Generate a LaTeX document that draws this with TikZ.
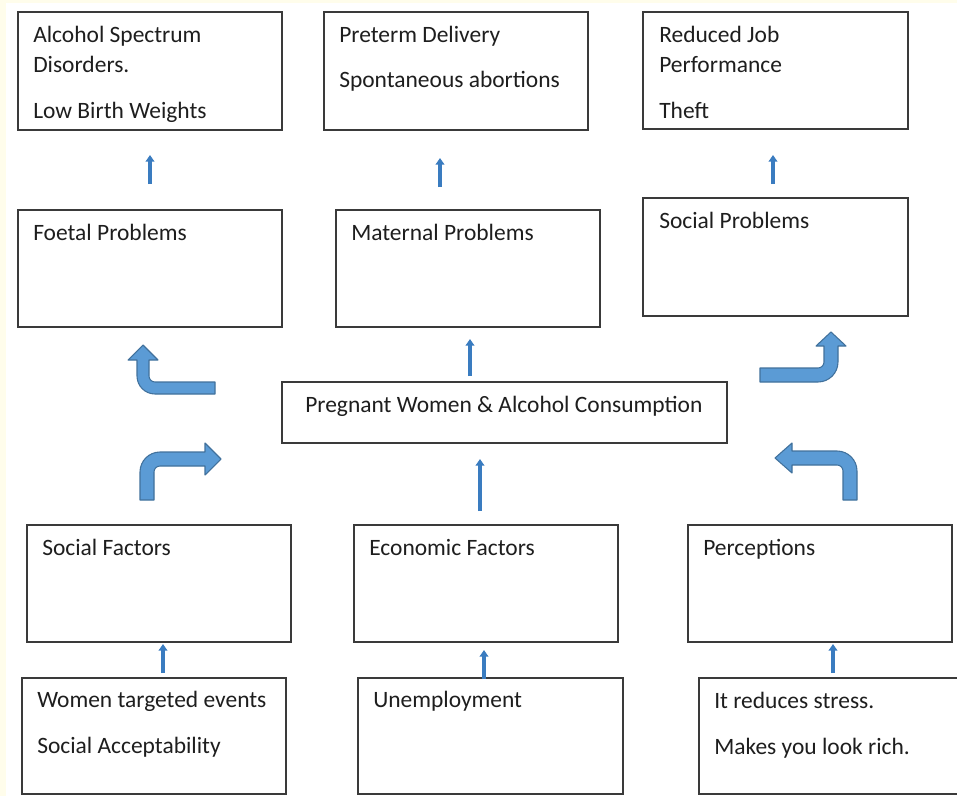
\documentclass[tikz,border=0pt]{standalone}
\usepackage{fontspec}
\setmainfont{Carlito}
\usetikzlibrary{arrows.meta,fit}
\definecolor{cream}{HTML}{FFFDEB}
\definecolor{boxline}{HTML}{3A3A3A}
\definecolor{txtcol}{HTML}{1E1E1E}
\definecolor{bigfill}{HTML}{5B9BD5}
\definecolor{bigline}{HTML}{41719C}
\definecolor{smallarr}{HTML}{3A7CC0}
\tikzset{
  box/.style={draw=boxline, line width=1.1pt, inner sep=0pt, fill=white},
  txt/.style={anchor=base west, inner sep=0pt, text=txtcol, font=\fontsize{17.6pt}{21pt}\selectfont},
  bigarrow/.style={fill=bigfill, draw=bigline, line width=0.8pt, line join=round},
  smallarrow/.style={draw=smallarr, line width=2.4pt, -{Triangle[width=6.5pt,length=5pt]}},
}
\begin{document}
\begin{tikzpicture}[x=0.75pt,y=-0.75pt]
\useasboundingbox (0,0) rectangle (957,796);
\fill[cream] (0,0) rectangle (957,796);
\fill[white] (6,3) rectangle (957,796);

% ---------- top row ----------
\node[box, fit={(18,12) (282,130)}] (fasd) {};
\node[txt] (fasd1) at (33,42) {Alcohol Spectrum};
\node[txt] (fasd2) at (33,72) {Disorders.};
\node[txt] (fasd3) at (33,118) {Low Birth Weights};

\node[box, fit={(324,12) (588,130)}] (preterm) {};
\node[txt] (preterm1) at (339,42) {Preterm Delivery};
\node[txt] (preterm2) at (339,87) {Spontaneous abortions};

\node[box, fit={(643,12) (908,129)}] (job) {};
\node[txt] (job1) at (659,42) {Reduced Job};
\node[txt] (job2) at (659,72) {Performance};
\node[txt] (job3) at (659,118) {Theft};

% ---------- second row ----------
\node[box, fit={(18,210) (282,327)}] (foetal) {};
\node[txt] (foetal1) at (33,240) {Foetal Problems};

\node[box, fit={(336,210) (600,327)}] (maternal) {};
\node[txt] (maternal1) at (351,240) {Maternal Problems};

\node[box, fit={(643,198) (908,316)}] (socprob) {};
\node[txt] (socprob1) at (659,228) {Social Problems};

% ---------- centre ----------
\node[box, fit={(282,382) (727,443)}] (centre) {};
\node[txt] (centre1) at (305,412) {Pregnant Women \& Alcohol Consumption};

% ---------- third row ----------
\node[box, fit={(27,525) (291,642)}] (socfac) {};
\node[txt] (socfac1) at (42,555) {Social Factors};

\node[box, fit={(354,525) (618,642)}] (econ) {};
\node[txt] (econ1) at (369,555) {Economic Factors};

\node[box, fit={(688,525) (952,642)}] (percep) {};
\node[txt] (percep1) at (703,555) {Perceptions};

% ---------- bottom row ----------
\node[box, fit={(22,678) (286,794)}] (women) {};
\node[txt] (women1) at (37,707) {Women targeted events};
\node[txt] (women2) at (37,753) {Social Acceptability};

\node[box, fit={(358,678) (623,794)}] (unemp) {};
\node[txt] (unemp1) at (373,707) {Unemployment};

\node[box, fit={(699,678) (962,794)}] (stress) {};
\node[txt] (stress1) at (714,708) {It reduces stress.};
\node[txt] (stress2) at (714,754) {Makes you look rich.};

% ---------- small arrows ----------
\coordinate (s1a) at (150,184); \coordinate (s1b) at (150,155);
\coordinate (s2a) at (440,187); \coordinate (s2b) at (440,158);
\coordinate (s3a) at (773,184); \coordinate (s3b) at (773,155);
\coordinate (s4a) at (470,376); \coordinate (s4b) at (470,339);
\coordinate (s5a) at (480,511); \coordinate (s5b) at (480,459);
\coordinate (s6a) at (163,673); \coordinate (s6b) at (163,644);
\coordinate (s7a) at (484,679); \coordinate (s7b) at (484,650);
\coordinate (s8a) at (833,673); \coordinate (s8b) at (833,644);
\foreach \n in {1,...,8} \draw[smallarrow] (s\n a) -- (s\n b);

% ---------- bent block arrows ----------
% upper left (to Foetal Problems)
\draw[bigarrow] (215,382) -- (155,382) .. controls (151.69,382) and (149,379.31) .. (149,376)
  -- (149,360) -- (158,360) -- (143,345) -- (128,360) -- (137,360) -- (137,376)
  .. controls (137,385.94) and (145.06,394) .. (155,394) -- (215,394) -- cycle;
% lower left (from Social Factors)
\draw[bigarrow] (140,500) -- (140,472) .. controls (140,460.96) and (148.96,452) .. (160,452)
  -- (205,452) -- (205,443) -- (221,459) -- (205,475) -- (205,466) -- (160,466)
  .. controls (156.69,466) and (154,468.69) .. (154,472) -- (154,500) -- cycle;
% upper right (to Social Problems)
\draw[bigarrow] (760,368) -- (818,368) .. controls (821.31,368) and (824,365.31) .. (824,362)
  -- (824,346) -- (816,346) -- (831,332) -- (846,346) -- (838,346) -- (838,362)
  .. controls (838,373.04) and (829.04,382) .. (818,382) -- (760,382) -- cycle;
% lower right (from Perceptions)
\draw[bigarrow] (857,500) -- (857,471) .. controls (857,459.96) and (848.04,451) .. (837,451)
  -- (792,451) -- (792,443) -- (775,458) -- (792,473) -- (792,465) -- (837,465)
  .. controls (840.31,465) and (843,467.69) .. (843,471) -- (843,500) -- cycle;
\end{tikzpicture}
\end{document}
